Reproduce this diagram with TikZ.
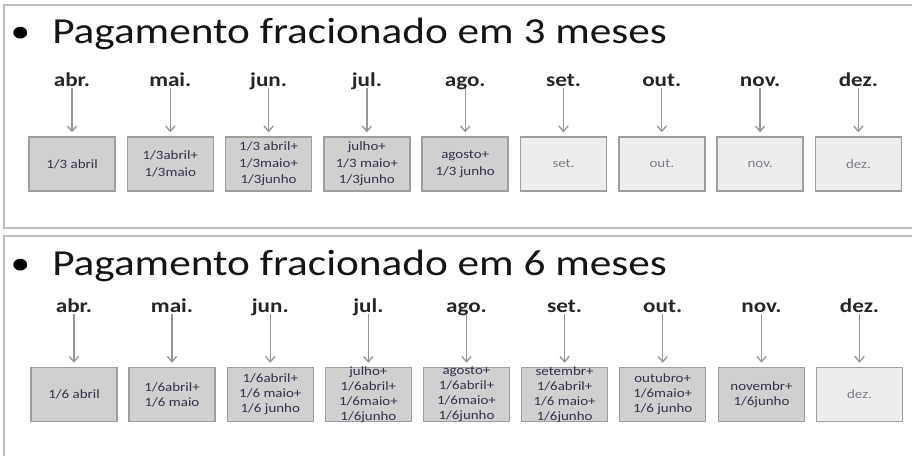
\documentclass[tikz,border=0pt]{standalone}
\usepackage{fontspec}
\setmainfont{Carlito}[FakeStretch=1.18]
\usepackage{xcolor}
\usetikzlibrary{arrows.meta}

\definecolor{cinzamoldura}{RGB}{188,188,188}
\definecolor{cinzaborda}{RGB}{158,158,158}
\definecolor{cinzacheia}{RGB}{208,208,208}
\definecolor{cinzaclara}{RGB}{237,237,237}
\definecolor{cinzaseta}{RGB}{150,150,150}
\definecolor{textocaixa}{RGB}{50,50,75}
\definecolor{textoclaro}{RGB}{125,125,135}

\tikzset{
  moldura/.style={draw=cinzamoldura, line width=1.1pt},
  titulo/.style={anchor=base west, inner sep=0pt, text=black!92, font=\fontsize{27.5pt}{32pt}\selectfont},
  marcador/.style={anchor=base, inner sep=0pt, font=\fontsize{25pt}{32pt}\selectfont},
  mes/.style={anchor=base, inner sep=0pt, text depth=1.5pt, text=black!85, font=\bfseries\fontsize{14.7pt}{17pt}\selectfont},
  caixa/.style={draw=cinzaborda, line width=1.1pt, minimum width=64.5pt, minimum height=40.5pt, inner sep=0pt},
  cheia/.style={caixa, fill=cinzacheia},
  vazia/.style={caixa, fill=cinzaclara},
  texto/.style={align=center, inner sep=0pt, text=textocaixa, font=\fontsize{9.5pt}{12.4pt}\selectfont},
  texto6/.style={texto, font=\fontsize{9.5pt}{11.25pt}\selectfont},
  textoclaro/.style={texto, text=textoclaro},
  seta/.style={draw=cinzaseta, line width=1pt, -{Straight Barb[length=4pt,width=7pt]}, shorten >=3pt},
}

\begin{document}
\begin{tikzpicture}[x=0.75pt,y=0.75pt,yscale=-1,xscale=1]
\useasboundingbox (0,0) rectangle (912,455);

%Shape: Frames
\draw[moldura] (4,5) rectangle (925,228);
\draw[moldura] (4,236) rectangle (925,470);

% ---------- 3 meses ----------
\node[marcador] (bala3) at (20.5,42) {•};
\node[titulo] (titulo3) at (52,43) {Pagamento fracionado em 3 meses};

\foreach \x/\n/\m in {72/abr/abr., 170.3/mai/mai., 268.6/jun/jun., 366.9/jul/jul., 465.2/ago/ago.,
    563.5/set/set., 661.8/out/out., 760.1/nov/nov., 858.4/dez/dez.}
  \node[mes] (m3-\n) at (\x,86) {\m};

% Boxes
\node[cheia] (b3-abr) at (72,164) {};
\node[texto] (t3-abr) at (b3-abr) {1/3 abril};
\node[cheia] (b3-mai) at (170.3,164) {};
\node[texto] (t3-mai) at (b3-mai) {1/3abril+\\1/3maio};
\node[cheia] (b3-jun) at (268.6,164) {};
\node[texto] (t3-jun) at (b3-jun) {1/3 abril+\\1/3maio+\\1/3junho};
\node[cheia] (b3-jul) at (366.9,164) {};
\node[texto] (t3-jul) at (b3-jul) {julho+\\1/3 maio+\\1/3junho};
\node[cheia] (b3-ago) at (465.2,164) {};
\node[texto] (t3-ago) at (b3-ago) {agosto+\\1/3 junho};
\node[vazia] (b3-set) at (563.5,164) {};
\node[textoclaro] (t3-set) at (b3-set) {set.};
\node[vazia] (b3-out) at (661.8,164) {};
\node[textoclaro] (t3-out) at (b3-out) {out.};
\node[vazia] (b3-nov) at (760.1,164) {};
\node[textoclaro] (t3-nov) at (b3-nov) {nov.};
\node[vazia] (b3-dez) at (858.4,164) {};
\node[textoclaro] (t3-dez) at (b3-dez) {dez.};

\foreach \n in {abr,mai,jun,jul,ago,set,out,nov,dez}
  \draw[seta] (m3-\n) -- (b3-\n);

% ---------- 6 meses ----------
\node[marcador] (bala6) at (20.5,274) {•};
\node[titulo] (titulo6) at (52,275) {Pagamento fracionado em 6 meses};

\foreach \x/\n/\m in {74/abr/abr., 172/mai/mai., 270.3/jun/jun., 368.4/jul/jul., 466.5/ago/ago.,
    564.6/set/set., 662.7/out/out., 761.5/nov/nov., 859.5/dez/dez.}
  \node[mes] (m6-\n) at (\x,312) {\m};

% Boxes
\node[cheia] (b6-abr) at (74,394.5) {};
\node[texto6] (t6-abr) at (b6-abr) {1/6 abril};
\node[cheia] (b6-mai) at (172,394.5) {};
\node[texto6] (t6-mai) at (b6-mai) {1/6abril+\\1/6 maio};
\node[cheia] (b6-jun) at (270.3,394.5) {};
\node[texto6] (t6-jun) at (b6-jun) {1/6abril+\\1/6 maio+\\1/6 junho};
\node[cheia] (b6-jul) at (368.4,394.5) {};
\node[texto6] (t6-jul) at (b6-jul) {julho+\\1/6abril+\\1/6maio+\\1/6junho};
\node[cheia] (b6-ago) at (466.5,394.5) {};
\node[texto6] (t6-ago) at (b6-ago) {agosto+\\1/6abril+\\1/6maio+\\1/6junho};
\node[cheia] (b6-set) at (564.6,394.5) {};
\node[texto6] (t6-set) at (b6-set) {setembr+\\1/6abril+\\1/6 maio+\\1/6junho};
\node[cheia] (b6-out) at (662.7,394.5) {};
\node[texto6] (t6-out) at (b6-out) {outubro+\\1/6maio+\\1/6 junho};
\node[cheia] (b6-nov) at (761.5,394.5) {};
\node[texto6] (t6-nov) at (b6-nov) {novembr+\\1/6junho};
\node[vazia] (b6-dez) at (859.5,394.5) {};
\node[textoclaro] (t6-dez) at (b6-dez) {dez.};

\foreach \n in {abr,mai,jun,jul,ago,set,out,nov,dez}
  \draw[seta] (m6-\n) -- (b6-\n);

\end{tikzpicture}
\end{document}
